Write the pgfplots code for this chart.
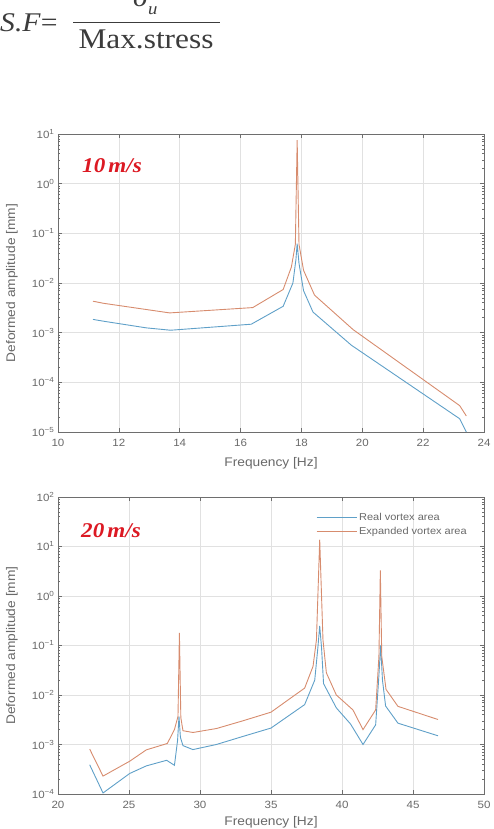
\documentclass[border=0pt]{standalone}
\usepackage{fontspec}
\setmainfont{Liberation Sans}[FakeStretch=1.1]
\newfontfamily\seriffont{Liberation Serif}[FakeStretch=1.1]
\usepackage{pgfplots}
\pgfplotsset{compat=1.18}

\definecolor{realblue}{RGB}{95,160,200}
\definecolor{expandorange}{RGB}{215,140,110}
\definecolor{speedred}{RGB}{220,25,35}
\definecolor{labelgray}{RGB}{105,105,105}
\definecolor{gridgray}{RGB}{225,225,225}
\definecolor{framegray}{RGB}{110,110,110}
\definecolor{formulagray}{RGB}{60,60,60}

\pgfplotsset{
  freqaxis/.style={
    scale only axis, width=426pt, height=298pt,
    axis line style={framegray, line width=0.8pt},
    tick style={framegray, line width=0.6pt},
    tick align=inside,
    major tick length=4pt, minor tick length=2pt,
    xtick pos=both, ytick pos=both,
    xticklabel pos=left, yticklabel pos=left,
    grid=major, major grid style={gridgray, line width=0.5pt},
    /pgf/number format/assume math mode=true,
    ticklabel style={font=\fontsize{10.5}{12}\selectfont, text=labelgray},
    xticklabel style={yshift=-4pt},
    label style={font=\fontsize{12.5}{14}\selectfont, text=labelgray},
    xlabel={Frequency [Hz]},
    xlabel style={at={(axis description cs:0.5,-0.104)}, anchor=center},
    ylabel={Deformed amplitude [mm]},
    ylabel style={at={(axis description cs:-0.108,0.5)}, anchor=center},
  },
}

\begin{document}
\begin{tikzpicture}
\path[use as bounding box] (0pt,0pt) rectangle (493pt,-829pt);

% safety factor definition
\node[anchor=base west, inner sep=0, text=formulagray] at (0pt,-32pt)
  {\seriffont\fontsize{27}{27}\selectfont\textit{S.F}=};
\draw[formulagray, line width=1.1pt] (73pt,-22.7pt) -- (220pt,-22.7pt);
\node[anchor=base west, inner sep=0, text=formulagray] at (133pt,-7pt)
  {\seriffont\fontsize{27}{27}\selectfont\textit{σ}};
\node[anchor=base west, inner sep=0, text=formulagray] at (148pt,-15pt)
  {\seriffont\fontsize{17}{17}\selectfont\textit{u}};
\node[anchor=base, inner sep=0, text=formulagray] at (146pt,-49pt)
  {\seriffont\fontsize{28.5}{28.5}\selectfont Max.stress};

% 10 m/s
\begin{semilogyaxis}[freqaxis,
  at={(58pt,-432pt)}, anchor=south west,
  xmin=10, xmax=24, xtick={10,12,...,24},
  ymin=1e-5, ymax=1e1,
  ytick={1e-5,1e-4,1e-3,1e-2,1e-1,1e0,1e1},
  yticklabels={10\textsuperscript{−5},10\textsuperscript{−4},10\textsuperscript{−3},10\textsuperscript{−2},10\textsuperscript{−1},10\textsuperscript{0},10\textsuperscript{1}},
  minor ytick={2e-5,3e-5,4e-5,5e-5,6e-5,7e-5,8e-5,9e-5,
               2e-4,3e-4,4e-4,5e-4,6e-4,7e-4,8e-4,9e-4,
               2e-3,3e-3,4e-3,5e-3,6e-3,7e-3,8e-3,9e-3,
               2e-2,3e-2,4e-2,5e-2,6e-2,7e-2,8e-2,9e-2,
               0.2,0.3,0.4,0.5,0.6,0.7,0.8,0.9,
               2,3,4,5,6,7,8,9},
]
\addplot[realblue, line width=0.9pt] table {
11.15 1.85e-3
11.5  1.70e-3
12.9  1.25e-3
13.7  1.12e-3
16.35 1.48e-3
17.4  3.4e-3
17.72 1.0e-2
17.82 3.0e-2
17.86 6.2e-2
17.92 2.5e-2
18.07 7.0e-3
18.38 2.6e-3
19.64 5.6e-4
23.2  1.85e-5
23.42 1.0e-5
};
\addplot[expandorange, line width=0.9pt] table {
11.15 4.3e-3
11.5  3.9e-3
13.67 2.5e-3
16.4  3.2e-3
17.4  7.4e-3
17.67 2.1e-2
17.8  6.0e-2
17.86 7.5
17.92 6.0e-2
18.07 1.8e-2
18.43 5.7e-3
19.7  1.15e-3
23.2  3.4e-5
23.42 2.1e-5
};
\end{semilogyaxis}
\node[anchor=base west, inner sep=0, text=speedred] at (82pt,-172.5pt)
  {\seriffont\fontsize{21}{21}\selectfont\bfseries\itshape 10\hspace{0.15em}m/s};

% 20 m/s
\begin{semilogyaxis}[freqaxis,
  at={(58pt,-794pt)}, anchor=south west,
  height=297pt,
  xlabel style={at={(axis description cs:0.5,-0.094)}, anchor=center},
  xmin=20, xmax=50, xtick={20,25,...,50},
  ymin=1e-4, ymax=1e2,
  ytick={1e-4,1e-3,1e-2,1e-1,1e0,1e1,1e2},
  yticklabels={10\textsuperscript{−4},10\textsuperscript{−3},10\textsuperscript{−2},10\textsuperscript{−1},10\textsuperscript{0},10\textsuperscript{1},10\textsuperscript{2}},
  minor ytick={2e-4,3e-4,4e-4,5e-4,6e-4,7e-4,8e-4,9e-4,
               2e-3,3e-3,4e-3,5e-3,6e-3,7e-3,8e-3,9e-3,
               2e-2,3e-2,4e-2,5e-2,6e-2,7e-2,8e-2,9e-2,
               0.2,0.3,0.4,0.5,0.6,0.7,0.8,0.9,
               2,3,4,5,6,7,8,9,
               20,30,40,50,60,70,80,90},
  legend style={draw=none, fill=none, at={(axis description cs:0.967,0.955)},
    anchor=north east, font=\fontsize{10}{12}\selectfont, text=labelgray,
    row sep=1pt, inner sep=1pt},
  legend cell align=left,
  legend image code/.code={\draw[#1] (0pt,0pt) -- (40pt,0pt);},
]
\addplot[realblue, line width=0.9pt] table {
22.23 3.9e-4
23.17 1.05e-4
25.05 2.6e-4
26.22 3.7e-4
27.65 4.8e-4
28.2  3.8e-4
28.42 1.2e-3
28.52 3.7e-3
28.62 1.4e-3
28.8  9.5e-4
29.5  7.9e-4
31.15 1.0e-3
33.0  1.45e-3
35.0  2.15e-3
37.37 6.4e-3
38.08 2.0e-2
38.3  9.0e-2
38.43 2.5e-1
38.56 9.0e-2
38.7  1.7e-2
39.6  5.5e-3
40.6  2.6e-3
41.48 1.0e-3
42.37 2.5e-3
42.6  2.5e-2
42.72 1.0e-1
42.85 2.0e-2
43.07 6.0e-3
43.94 2.7e-3
46.76 1.5e-3
};
\addlegendentry{Real vortex area}
\addplot[expandorange, line width=0.9pt] table {
22.23 8.1e-4
23.17 2.3e-4
25.05 4.6e-4
26.22 7.8e-4
27.7  1.05e-3
28.2  2.0e-3
28.45 3.7e-3
28.55 0.18
28.65 3.5e-3
28.8  1.9e-3
29.5  1.75e-3
31.15 2.1e-3
33.0  3.0e-3
35.0  4.5e-3
37.37 1.38e-2
37.96 3.8e-2
38.2  1.3e-1
38.43 13.7
38.66 1.3e-1
38.9  2.8e-2
39.6  1.0e-2
40.77 5.0e-3
41.48 2.0e-3
42.37 5.0e-3
42.6  6.0e-2
42.7  3.3
42.8  6.0e-2
43.1  1.3e-2
43.94 5.9e-3
46.76 3.2e-3
};
\addlegendentry{Expanded vortex area}
\end{semilogyaxis}
\node[anchor=base west, inner sep=0, text=speedred] at (81pt,-537pt)
  {\seriffont\fontsize{21}{21}\selectfont\bfseries\itshape 20\hspace{0.15em}m/s};
\end{tikzpicture}
\end{document}
